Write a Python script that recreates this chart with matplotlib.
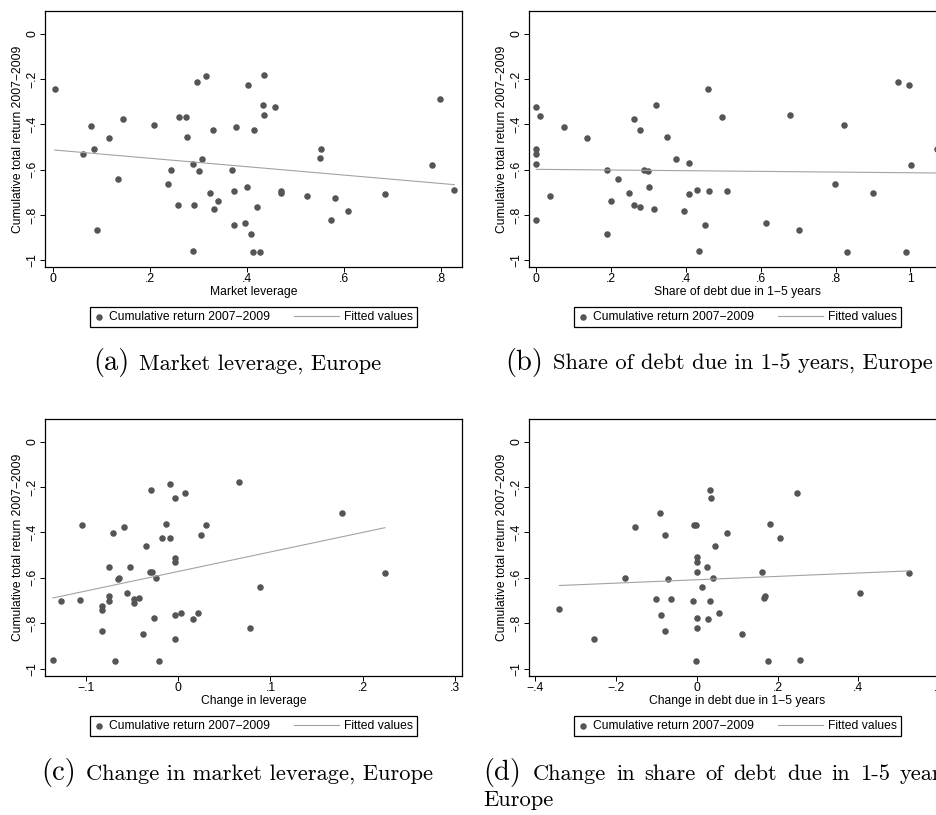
import numpy as np
import matplotlib
matplotlib.use("Agg")
import matplotlib.pyplot as plt
from matplotlib.legend_handler import HandlerLine2D
from matplotlib.ticker import FuncFormatter

plt.rcParams['font.family'] = ['Liberation Sans', 'DejaVu Sans']

# ---- data ----
a_x = [0.003, 0.062, 0.078, 0.085, 0.091, 0.114, 0.133, 0.144, 0.208, 0.237, 0.243, 0.257, 0.259, 0.275,
       0.276, 0.289, 0.288, 0.290, 0.296, 0.301, 0.307, 0.315, 0.323, 0.330, 0.331, 0.340, 0.369, 0.373,
       0.373, 0.378, 0.395, 0.400, 0.402, 0.409, 0.412, 0.414, 0.420, 0.427, 0.434, 0.435, 0.436, 0.457,
       0.470, 0.470, 0.524, 0.550, 0.552, 0.573, 0.582, 0.608, 0.686, 0.783, 0.799, 0.828]
a_y = [-0.245, -0.529, -0.407, -0.510, -0.868, -0.461, -0.640, -0.377, -0.404, -0.665, -0.601, -0.755,
       -0.366, -0.366, -0.458, -0.574, -0.960, -0.755, -0.213, -0.606, -0.551, -0.186, -0.703, -0.423,
       -0.775, -0.737, -0.601, -0.695, -0.846, -0.411, -0.834, -0.677, -0.226, -0.883, -0.965, -0.423,
       -0.764, -0.965, -0.316, -0.181, -0.361, -0.323, -0.692, -0.702, -0.714, -0.549, -0.510, -0.821,
       -0.724, -0.781, -0.708, -0.580, -0.289, -0.689]

b_x = [0.0, 0.009, 0.0, 0.0, 0.0, 0.0, 0.037, 0.073, 0.135, 0.190, 0.190, 0.200, 0.218, 0.248, 0.262,
       0.262, 0.276, 0.277, 0.287, 0.299, 0.301, 0.314, 0.320, 0.350, 0.373, 0.395, 0.408, 0.407, 0.430,
       0.434, 0.452, 0.458, 0.462, 0.495, 0.509, 0.613, 0.678, 0.702, 0.799, 0.823, 0.830, 0.901, 0.967,
       0.989, 0.997, 1.002, 1.071]
b_y = [-0.323, -0.364, -0.511, -0.529, -0.577, -0.821, -0.714, -0.411, -0.461, -0.601, -0.883, -0.739,
       -0.640, -0.702, -0.377, -0.755, -0.764, -0.423, -0.601, -0.606, -0.677, -0.775, -0.316, -0.458,
       -0.551, -0.781, -0.571, -0.708, -0.689, -0.960, -0.846, -0.245, -0.695, -0.366, -0.692, -0.834,
       -0.361, -0.868, -0.665, -0.404, -0.965, -0.703, -0.213, -0.965, -0.226, -0.580, -0.510]

c_x = [-0.136, -0.127, -0.106, -0.104, -0.083, -0.083, -0.083, -0.075, -0.075, -0.075, -0.071, -0.068,
       -0.065, -0.064, -0.059, -0.056, -0.052, -0.048, -0.048, -0.042, -0.038, -0.035, -0.031, -0.030,
       -0.028, -0.026, -0.024, -0.021, -0.018, -0.013, -0.009, -0.009, -0.004, -0.004, -0.004, -0.003,
       -0.003, 0.003, 0.007, 0.016, 0.021, 0.025, 0.030, 0.066, 0.078, 0.089, 0.177, 0.224]
c_y = [-0.962, -0.701, -0.696, -0.366, -0.726, -0.740, -0.834, -0.550, -0.679, -0.704, -0.404, -0.966,
       -0.606, -0.601, -0.376, -0.666, -0.552, -0.691, -0.709, -0.688, -0.849, -0.459, -0.572, -0.213,
       -0.575, -0.776, -0.601, -0.966, -0.424, -0.362, -0.187, -0.424, -0.871, -0.765, -0.512, -0.529,
       -0.246, -0.757, -0.225, -0.782, -0.754, -0.410, -0.365, -0.179, -0.822, -0.640, -0.316, -0.579]

d_x = [-0.341, -0.256, -0.177, -0.154, -0.102, -0.092, -0.088, -0.080, -0.078, -0.071, -0.064, -0.009,
       -0.008, -0.003, -0.003, 0.001, 0.001, 0.001, 0.001, 0.001, 0.013, 0.025, 0.028, 0.033, 0.033,
       0.036, 0.039, 0.045, 0.055, 0.074, 0.111, 0.161, 0.166, 0.168, 0.177, 0.181, 0.207, 0.248, 0.256,
       0.405, 0.526]
d_y = [-0.738, -0.869, -0.600, -0.376, -0.691, -0.316, -0.763, -0.834, -0.410, -0.606, -0.694, -0.700,
       -0.366, -0.366, -0.966, -0.509, -0.529, -0.576, -0.776, -0.822, -0.640, -0.551, -0.781, -0.215,
       -0.704, -0.246, -0.601, -0.459, -0.756, -0.404, -0.847, -0.572, -0.688, -0.679, -0.966, -0.362,
       -0.424, -0.225, -0.962, -0.665, -0.579]

y_ticks = [0, -0.2, -0.4, -0.6, -0.8, -1]
a_ticks = [0, 0.2, 0.4, 0.6, 0.8]
b_ticks = [0, 0.2, 0.4, 0.6, 0.8, 1]
c_ticks = [-0.1, 0, 0.1, 0.2, 0.3]
d_ticks = [-0.4, -0.2, 0, 0.2, 0.4, 0.6]

x_labels = ['Market leverage', 'Share of debt due in 1\u22125 years',
            'Change in leverage', 'Change in debt due in 1\u22125 years']
y_label = 'Cumulative total return 2007\u22122009'
series_name = 'Cumulative return 2007\u22122009'
fit_name = 'Fitted values'

W, H = 937, 815
MARK = '#555555'
FIT = '#a3a3a3'
FS = 8.7


def stata_fmt(v, pos):
    v = round(v, 6)
    if abs(v) < 1e-9:
        return '0'
    s = f'{v:g}'.replace('0.', '.')
    return s.replace('-', '\u2212')


class LongLine(HandlerLine2D):
    # stata draws a long key line; extend it to the left of the handle box
    def get_xdata(self, legend, xdescent, ydescent, width, height, fontsize):
        xdata, xmark = super().get_xdata(legend, xdescent, ydescent, width, height, fontsize)
        return np.array([-xdescent - 2.9 * fontsize, -xdescent + width]), xmark


def panel(fig, left_px, bottom_px, height_px, x, y, ticks, xlim, ylim, xlabel):
    ax = fig.add_axes([left_px / W, 1 - bottom_px / H, 417 / W, height_px / H])
    x = np.array(x)
    y = np.array(y)
    pts = ax.scatter(x, y, s=22, color=MARK, linewidths=0, zorder=2)
    k, c = np.polyfit(x, y, 1)
    xs = np.array([x.min(), x.max()])
    fit, = ax.plot(xs, k * xs + c, color=FIT, lw=0.8, zorder=3)

    ax.set_xlim(*xlim)
    ax.set_ylim(*ylim)
    ax.set_xticks(ticks)
    ax.set_yticks(y_ticks)
    ax.xaxis.set_major_formatter(FuncFormatter(stata_fmt))
    ax.yaxis.set_major_formatter(FuncFormatter(stata_fmt))
    ax.tick_params(direction='out', length=3.6, width=0.7, labelsize=FS, colors='black')
    ax.tick_params(axis='x', pad=0.8)
    ax.tick_params(axis='y', pad=1.2, labelrotation=90)
    for lab in ax.get_yticklabels():
        lab.set_va('center')
    for sp in ax.spines.values():
        sp.set_linewidth(0.9)
    ax.set_xlabel(xlabel, fontsize=FS, labelpad=0.8)
    ax.set_ylabel(y_label, fontsize=FS, labelpad=1.5)

    leg = ax.legend([pts, fit], [series_name, fit_name], ncol=2, loc='upper center',
                    bbox_to_anchor=(0.5, -40 / height_px), borderaxespad=0,
                    fontsize=FS, frameon=True, fancybox=False, edgecolor='black',
                    framealpha=1, handlelength=0.8, handletextpad=0.4, columnspacing=4.9,
                    borderpad=0.33, scatterpoints=1, handler_map={fit: LongLine()})
    leg.get_frame().set_linewidth(0.9)
    return ax


fig = plt.figure(figsize=(W / 100, H / 100), dpi=100)

panel(fig, 45, 267, 256, a_x, a_y, a_ticks, (-0.0172, 0.844), (-1.0294, 0.0999), x_labels[0])
panel(fig, 529, 267, 256, b_x, b_y, b_ticks, (-0.0196, 1.095), (-1.0294, 0.0999), x_labels[1])
panel(fig, 45, 676, 257, c_x, c_y, c_ticks, (-0.1444, 0.3076), (-1.0324, 0.1), x_labels[2])
panel(fig, 529, 676, 257, d_x, d_y, d_ticks, (-0.416, 0.617), (-1.0324, 0.1), x_labels[3])

# captions in latex style
CAP = ['cmr10', 'DejaVu Serif']
TAG_FS = 20.5
CAP_FS = 16.2


def caption(tag_x, text_x, base_y, tag, text):
    fig.text(tag_x / W, 1 - base_y / H, tag, family=CAP, fontsize=TAG_FS, va='baseline', ha='left')
    fig.text(text_x / W, 1 - base_y / H, text, family=CAP, fontsize=CAP_FS, va='baseline', ha='left')


caption(93, 139, 370, '(a)', 'Market leverage, Europe')
caption(505, 553, 370, '(b)', 'Share of debt due in 1-5 years, Europe')
caption(41, 86, 780, '(c)', 'Change in market leverage, Europe')

# (d) first line is justified: words spread evenly between x=533 and x=900
fig.text(483 / W, 1 - 780 / H, '(d)', family=CAP, fontsize=TAG_FS, va='baseline', ha='left')
d_words = ['Change', 'in', 'share', 'of', 'debt', 'due', 'in', '1-5', 'years,']
renderer = fig.canvas.get_renderer()
word_texts = [fig.text(0, 1 - 780 / H, wd, family=CAP, fontsize=CAP_FS, va='baseline', ha='left')
              for wd in d_words]
widths = [t.get_window_extent(renderer).width for t in word_texts]
gap = (900 - 533 - sum(widths[:-1])) / (len(d_words) - 1)
px = 533
for t, wdt in zip(word_texts, widths):
    t.set_x(px / W)
    px += wdt + gap
fig.text(483 / W, 1 - 806 / H, 'Europe', family=CAP, fontsize=CAP_FS, va='baseline', ha='left')

fig.savefig('out.png', dpi=100)
